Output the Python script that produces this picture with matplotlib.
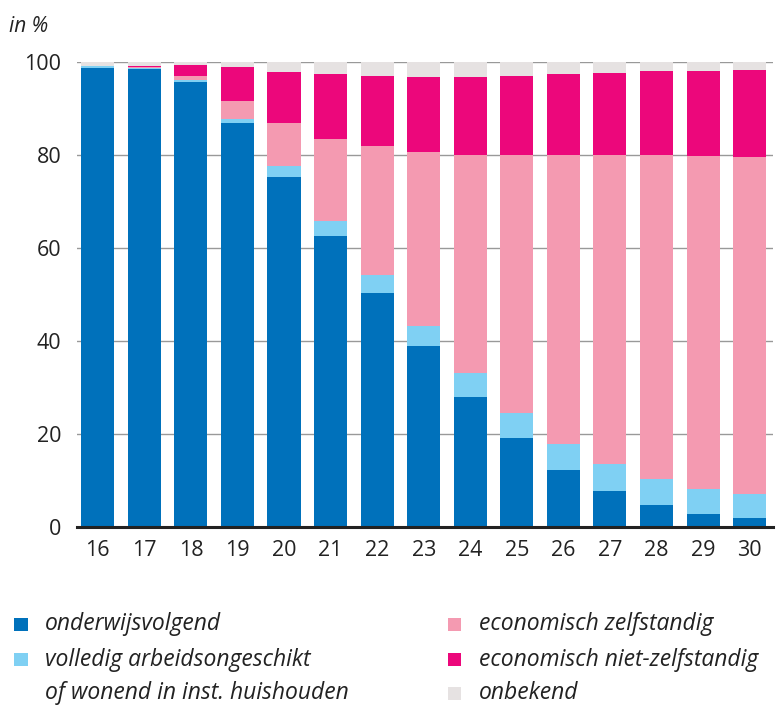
import matplotlib.pyplot as plt
import numpy as np
from matplotlib.patches import Rectangle

# leeftijden en aandelen (in %)
ages = [16, 17, 18, 19, 20, 21, 22, 23, 24, 25, 26, 27, 28, 29, 30]
onderwijs = [98.8, 98.5, 95.8, 87.0, 75.3, 62.7, 50.5, 39.0, 28.1, 19.2, 12.3, 7.9, 4.8, 2.8, 2.0]
arbeidsongeschikt = [0.3, 0.2, 0.4, 0.8, 2.4, 3.2, 3.8, 4.3, 5.0, 5.5, 5.7, 5.7, 5.6, 5.4, 5.1]
zelfstandig = [0.0, 0.3, 0.9, 3.9, 9.3, 17.7, 27.8, 37.4, 47.0, 55.4, 62.1, 66.5, 69.6, 71.7, 72.5]
niet_zelfstandig = [0.1, 0.1, 2.3, 7.3, 11.0, 13.8, 15.0, 16.1, 16.7, 17.0, 17.4, 17.6, 18.1, 18.2, 18.8]
onbekend = [0.8, 0.9, 0.6, 1.0, 2.0, 2.6, 2.9, 3.2, 3.2, 2.9, 2.5, 2.3, 1.9, 1.9, 1.6]

series = [onderwijs, arbeidsongeschikt, zelfstandig, niet_zelfstandig, onbekend]
colors = ['#0071bb', '#7fd0f3', '#f49ab1', '#ec077b', '#e6e2e2']
labels = ['onderwijsvolgend', 'volledig arbeidsongeschikt',
          'economisch zelfstandig', 'economisch niet-zelfstandig', 'onbekend']

plt.rcParams['font.family'] = ['Open Sans', 'DejaVu Sans']

fig = plt.figure(figsize=(7.76, 7.08), dpi=100)
ax = fig.add_axes([0.099, 0.255, 0.897, 0.657])

bottom = np.zeros(len(ages))
for vals, c in zip(series, colors):
    ax.bar(ages, vals, bottom=bottom, width=0.71, color=c, linewidth=0)
    bottom += np.array(vals)

ax.set_xlim(15.55, 30.5)
ax.set_ylim(0, 100)
ax.set_yticks([0, 20, 40, 60, 80, 100])
ax.set_xticks(ages)
ax.set_axisbelow(True)
ax.yaxis.grid(True, color='#999999', linewidth=1)
for s in ['left', 'right', 'top']:
    ax.spines[s].set_visible(False)
ax.spines['bottom'].set_color('#222222')
ax.spines['bottom'].set_linewidth(2.2)
ax.tick_params(axis='both', length=0, labelsize=15.5, colors='#222222')
ax.tick_params(axis='y', pad=11)
ax.tick_params(axis='x', pad=9)

fig.text(0.012, 0.963, 'in %', fontsize=15, style='italic', color='#222222', va='center')

# legenda
legend_pos = [(0.018, 0.118), (0.018, 0.068), (0.577, 0.118), (0.577, 0.068), (0.577, 0.021)]
for (x, y), c, lab in zip(legend_pos, colors, labels):
    fig.patches.append(Rectangle((x, y - 0.009), 0.0175, 0.018, transform=fig.transFigure,
                                 facecolor=c, edgecolor='none'))
    fig.text(x + 0.04, y, lab, fontsize=16.5, style='italic', color='#222222', va='center')
fig.text(0.058, 0.021, 'of wonend in inst. huishouden', fontsize=16.5, style='italic',
         color='#222222', va='center')

fig.savefig('out.png', dpi=100)
